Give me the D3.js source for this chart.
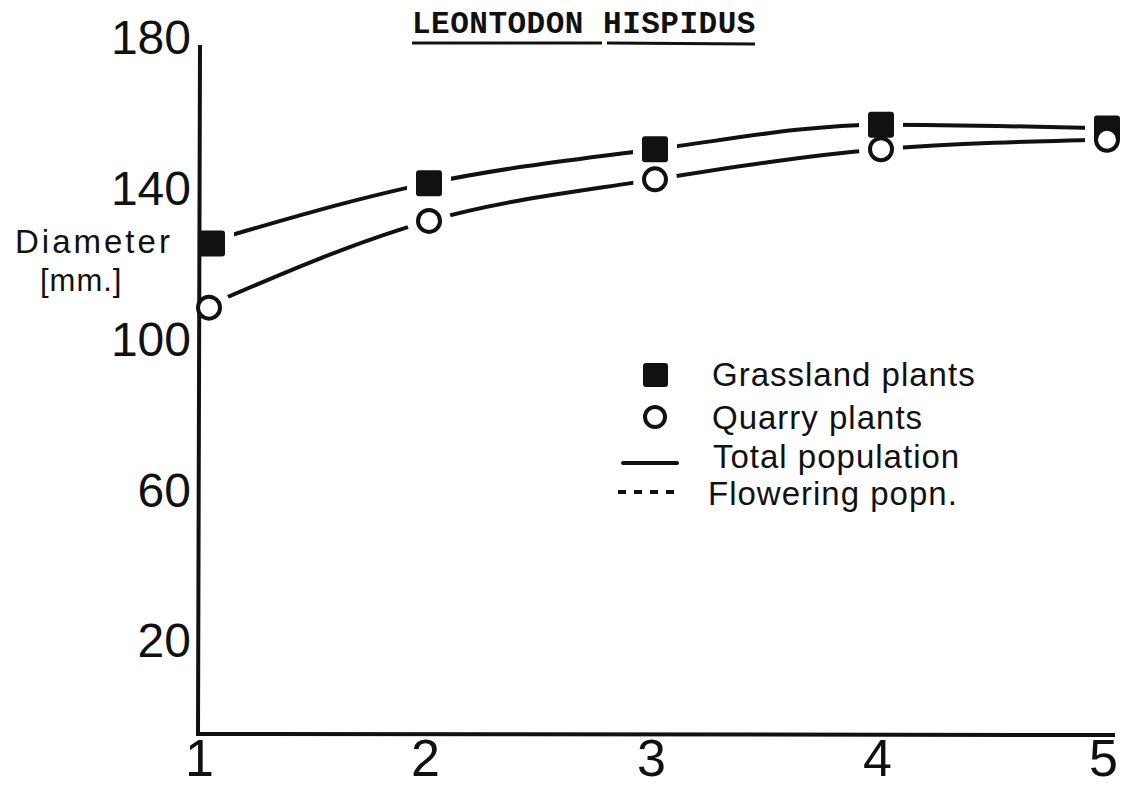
<!DOCTYPE html>
<meta charset="utf-8">
<style>
body { margin: 0; background: #fff; }
svg { background: #fff; }
.num { font-family: "Liberation Sans", sans-serif; fill: #111; }
.xnum { font-family: "Liberation Sans", sans-serif; fill: #111; }
.lab { font-family: "Liberation Sans", sans-serif; fill: #111; }
.title { font-family: "Liberation Mono", monospace; font-weight: bold; fill: #111; }
.line { fill: none; stroke: #111; stroke-width: 4px; stroke-linecap: round; }
.axisline { fill: none; stroke: #111; stroke-width: 4px; }
</style>
<body>
<script src="https://d3js.org/d3.v7.min.js"></script>
<script>

var years = [1, 2, 3, 4, 5];
var grassland = [125, 141, 150, 156.5, 155.5];
var quarry = [108, 131, 142, 150, 152.5];
var yTicks = [20, 60, 100, 140, 180];

var width = 1129, height = 787;

var x = d3.scaleLinear().domain([1, 5]).range([203, 1107]);
var y = d3.scaleLinear().domain([-5, 180]).range([734, 36]);

var svg = d3.select("body").append("svg")
	.attr("width", width)
	.attr("height", height);

// title
svg.append("text")
	.attr("class", "title")
	.attr("x", 412)
	.attr("y", 33)
	.style("font-size", "31px")
	.style("letter-spacing", "0.5px")
	.text("LEONTODON HISPIDUS");
svg.append("line").attr("class", "axisline").style("stroke-width", "3px")
	.attr("x1", 412).attr("x2", 602).attr("y1", 43).attr("y2", 43);
svg.append("line").attr("class", "axisline").style("stroke-width", "3px")
	.attr("x1", 607).attr("x2", 755).attr("y1", 43).attr("y2", 44);

// y axis title
svg.append("text").attr("class", "lab")
	.attr("x", 15).attr("y", 253)
	.style("font-size", "33px").style("letter-spacing", "3px")
	.text("Diameter");
svg.append("text").attr("class", "lab")
	.attr("x", 40).attr("y", 291)
	.style("font-size", "31px").style("letter-spacing", "1px")
	.text("[mm.]");

// tick labels
var yAxis = d3.axisLeft(y).tickValues(yTicks).tickSize(0).tickPadding(0);
var gy = svg.append("g").attr("transform", "translate(191,0)").call(yAxis);
gy.select(".domain").remove();
gy.selectAll("text").attr("class", "num").style("font-size", "48px").attr("dy", "0.36em");

var xAxis = d3.axisBottom(x).tickValues(years).tickFormat(d3.format("d")).tickSize(0).tickPadding(0);
var gx = svg.append("g").attr("transform", "translate(-4,776)").call(xAxis);
gx.select(".domain").remove();
gx.selectAll("text").attr("class", "xnum").style("font-size", "52px").attr("dy", "0");

var line = d3.line()
	.x(function(d, i) { return x(years[i]); })
	.y(function(d) { return y(d); })
	.curve(d3.curveMonotoneX);

svg.append("path").datum(grassland).attr("class", "line").attr("d", line);
svg.append("path").datum(quarry).attr("class", "line").attr("d", line);

// white halos so the lines stop short of the markers
svg.selectAll(".halo-sq").data(grassland).enter().append("rect")
	.attr("x", function(d, i) { return x(years[i]) + (i === 0 ? 9 : 0) - 22; })
	.attr("y", function(d) { return y(d) - 22; })
	.attr("width", 44).attr("height", 44)
	.attr("fill", "#fff");
svg.selectAll(".halo-ci").data(quarry).enter().append("circle")
	.attr("cx", function(d, i) { return x(years[i]) + (i === 0 ? 6 : 0); })
	.attr("cy", function(d) { return y(d); })
	.attr("r", 22)
	.attr("fill", "#fff");

// axes, hand drawn L
svg.append("path").attr("class", "axisline")
	.attr("d", "M" + (x(1) - 3) + "," + (y(180) + 9) + "L" + (x(1) - 5) + "," + y(-5) + "L" + (x(5) + 8) + "," + (y(-5) + 1));

svg.selectAll(".sq").data(grassland).enter().append("rect")
	.attr("x", function(d, i) { return x(years[i]) + (i === 0 ? 9 : 0) - 13; })
	.attr("y", function(d) { return y(d) - 13; })
	.attr("width", 26).attr("height", 26)
	.attr("rx", 3)
	.attr("fill", "#111");
svg.selectAll(".ci").data(quarry).enter().append("circle")
	.attr("cx", function(d, i) { return x(years[i]) + (i === 0 ? 6 : 0); })
	.attr("cy", function(d) { return y(d); })
	.attr("r", 11)
	.attr("fill", "#fff")
	.attr("stroke", "#111")
	.attr("stroke-width", 4);

// legend
var lg = svg.append("g");
lg.append("rect").attr("x", 643).attr("y", 363).attr("width", 25).attr("height", 24).attr("rx", 3).attr("fill", "#111");
lg.append("circle").attr("cx", 655).attr("cy", 417).attr("r", 10).attr("fill", "#fff").attr("stroke", "#111").attr("stroke-width", 4);
lg.append("line").attr("class", "line").attr("x1", 623).attr("x2", 677).attr("y1", 463).attr("y2", 463);
lg.append("line").attr("class", "line").style("stroke-linecap", "butt").style("stroke-dasharray", "8,8")
	.attr("x1", 618).attr("x2", 678).attr("y1", 492).attr("y2", 492);

var legendLabels = ["Grassland plants", "Quarry plants", "Total population", "Flowering popn."];
var legendY = [386, 429, 468, 505];
var legendX = [712, 712, 713, 708];
lg.selectAll(".ltext").data(legendLabels).enter().append("text")
	.attr("class", "lab")
	.attr("x", function(d, i) { return legendX[i]; })
	.attr("y", function(d, i) { return legendY[i]; })
	.style("font-size", "33px").style("letter-spacing", "1px")
	.text(function(d) { return d; });

</script>
